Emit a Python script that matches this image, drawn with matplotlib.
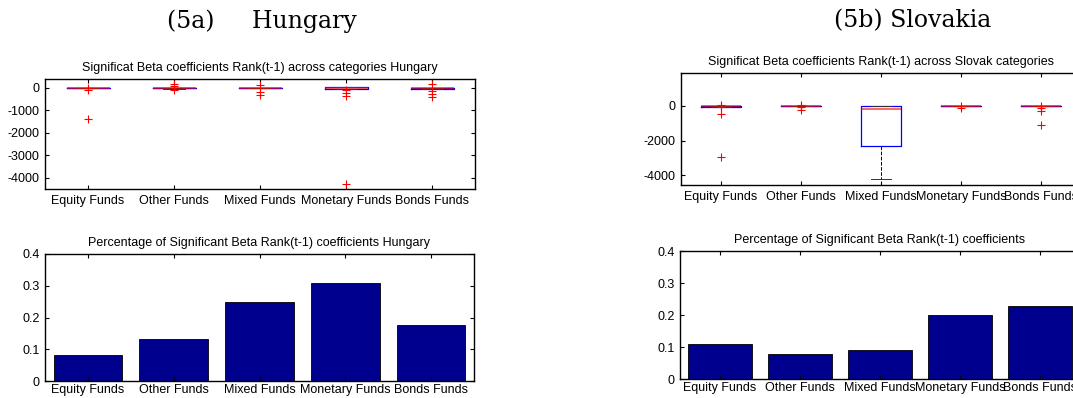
import matplotlib
matplotlib.use("Agg")
import matplotlib.pyplot as plt

plt.rcParams["font.family"] = ["Liberation Sans", "DejaVu Sans"]
plt.rcParams["axes.unicode_minus"] = False

categories = ["Equity Funds", "Other Funds", "Mixed Funds", "Monetary Funds", "Bonds Funds"]

# Hungary: box statistics of significant Rank(t-1) betas
hu_q1 = [-15, -20, -10, -30, -25]
hu_med = [0, 0, 0, 0, 0]
hu_q3 = [10, 15, 10, 40, 10]
hu_whislo = [-20, -25, -15, -35, -30]
hu_whishi = [15, 20, 15, 45, 15]
hu_fliers = [
    [-1360, -80, -5],
    [190, 100, -100],
    [150, -200, -330],
    [-100, -220, -360, -4280],
    [190, -150, -280, -400],
]
# Hungary: share of significant coefficients
hu_share = [0.081, 0.131, 0.248, 0.309, 0.176]

# Slovakia: box statistics of significant Rank(t-1) betas
sk_q1 = [-60, -10, -2320, -10, -15]
sk_med = [0, 0, -190, 0, 0]
sk_q3 = [10, 15, 0, 15, 10]
sk_whislo = [-65, -15, -4200, -15, -20]
sk_whishi = [15, 20, 20, 20, 15]
sk_fliers = [
    [60, -75, -460, -2960],
    [60, -75, -230],
    [],
    [5, -130],
    [5, -150, -290, -1130],
]
# Slovakia: share of significant coefficients
sk_share = [0.108, 0.079, 0.092, 0.201, 0.227]

BAR_COLOR = "#00008F"
W, H = 1073, 398
fig = plt.figure(figsize=(W / 100, H / 100), dpi=100)


def rect(x0, y0, x1, y1):
    return [x0 / W, 1 - y1 / H, (x1 - x0) / W, (y1 - y0) / H]


def style(ax):
    for s in ax.spines.values():
        s.set_linewidth(1.0)
        s.set_color("black")
    ax.tick_params(direction="in", length=3, width=0.8, top=True, right=True,
                   labelsize=9, pad=4)
    ax.set_xticks(range(1, 6))
    ax.set_xticklabels(categories)
    ax.set_xlim(0.5, 5.5)


def boxes(ax, q1, med, q3, lo, hi, fl):
    stats = []
    for i in range(5):
        stats.append(dict(q1=q1[i], med=med[i], q3=q3[i], whislo=lo[i],
                          whishi=hi[i], fliers=fl[i]))
    ax.bxp(stats, positions=range(1, 6), widths=0.5, capwidths=0.25,
           boxprops=dict(color="blue", linewidth=0.9),
           medianprops=dict(color="red", alpha=0.7, linewidth=1.2),
           whiskerprops=dict(color="black", linewidth=0.7, linestyle="--"),
           capprops=dict(color="#333333", linewidth=0.7),
           flierprops=dict(marker="+", markeredgecolor="red", markersize=6,
                           markeredgewidth=0.8, linestyle="none"),
           manage_ticks=False)


# Hungary boxplot
ax1 = fig.add_axes(rect(45, 79, 475, 189))
boxes(ax1, hu_q1, hu_med, hu_q3, hu_whislo, hu_whishi, hu_fliers)
style(ax1)
ax1.set_ylim(-4490, 400)
ax1.set_yticks([-4000, -3000, -2000, -1000, 0])
ax1.set_title("Significat Beta coefficients Rank(t-1) across categories Hungary",
              fontsize=9, pad=6)

# Hungary bars
ax2 = fig.add_axes(rect(45, 254, 474, 381))
ax2.bar(range(1, 6), hu_share, width=0.8, color=BAR_COLOR, edgecolor="black",
        linewidth=0.6)
style(ax2)
ax2.set_ylim(0, 0.4)
ax2.set_yticks([0, 0.1, 0.2, 0.3, 0.4])
ax2.set_yticklabels(["0", "0.1", "0.2", "0.3", "0.4"])
ax2.tick_params(axis="x", pad=2)
ax2.set_title("Percentage of Significant Beta Rank(t-1) coefficients Hungary",
              fontsize=9, pad=6)

# Slovakia boxplot
ax3 = fig.add_axes(rect(681, 73, 1081, 185))
boxes(ax3, sk_q1, sk_med, sk_q3, sk_whislo, sk_whishi, sk_fliers)
style(ax3)
ax3.set_ylim(-4570, 1900)
ax3.set_yticks([-4000, -2000, 0])
ax3.set_title("Significat Beta coefficients Rank(t-1) across Slovak categories",
              fontsize=9, pad=6)

# Slovakia bars
ax4 = fig.add_axes(rect(680, 251, 1080, 379))
ax4.bar(range(1, 6), sk_share, width=0.8, color=BAR_COLOR, edgecolor="black",
        linewidth=0.6)
style(ax4)
ax4.set_ylim(0, 0.4)
ax4.set_yticks([0, 0.1, 0.2, 0.3, 0.4])
ax4.set_yticklabels(["0", "0.1", "0.2", "0.3", "0.4"])
ax4.tick_params(axis="x", pad=2)
ax4.set_title("Percentage of Significant Beta Rank(t-1) coefficients",
              fontsize=9, pad=6)

# Panel headings
fig.text(262 / W, 1 - 21 / H, "(5a)     Hungary", family="DejaVu Serif",
         fontsize=17, ha="center", va="center")
fig.text(913 / W, 1 - 21 / H, "(5b) Slovakia", family="DejaVu Serif",
         fontsize=17, ha="center", va="center")

fig.savefig("out.png", dpi=100)
